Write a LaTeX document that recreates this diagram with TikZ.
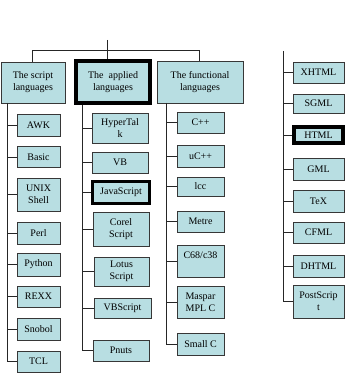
\documentclass[tikz,border=0pt]{standalone}
\usepackage{fontspec}
\setmainfont{Liberation Serif}
\usetikzlibrary{positioning}
\definecolor{cBox}{RGB}{184,222,226}
\definecolor{cEdge}{RGB}{55,55,55}

\begin{document}
\begin{tikzpicture}[
  x=1pt, y=-1pt,
  font=\fontsize{10}{12}\selectfont,
  head/.style 2 args={draw=cEdge, fill=cBox, line width=0.9pt, align=center,
    inner sep=1pt, minimum width=#1, minimum height=#2, anchor=center},
  leaf/.style 2 args={draw=cEdge, fill=cBox, line width=0.9pt, align=center,
    inner sep=1pt, minimum width=#1, minimum height=#2, anchor=center},
  picked/.style={line width=4pt, draw=black},
  link/.style={line width=0.8pt, black!85},
]
\useasboundingbox (0,0) rectangle (354,374);

% Group headers
\node[head={64pt}{41pt}] (script) at (33,82.5) {The script\\languages};
\node[head={74pt}{42pt}, picked] (applied) at (113,82) {The\ \ applied\\languages};
\node[head={86pt}{42pt}] (functional) at (200,82) {The functional\\languages};

% Script lane
\node[leaf={43pt}{22pt}] (awk) at (38.5,125) {AWK};
\node[leaf={43pt}{21pt}] (basic) at (38.5,157) {Basic};
\node[leaf={43pt}{33pt}] (unix) at (38.5,194.5) {UNIX\\Shell};
\node[leaf={43pt}{22pt}] (perl) at (38.5,233) {Perl};
\node[leaf={43pt}{23pt}] (python) at (38.5,264.5) {Python};
\node[leaf={43pt}{21pt}] (rexx) at (38.5,296.5) {REXX};
\node[leaf={43pt}{22pt}] (snobol) at (38.5,329) {Snobol};
\node[leaf={43pt}{21pt}] (tcl) at (38.5,361.5) {TCL};

% Applied lane
\node[leaf={56pt}{30pt}] (hypertalk) at (120,128) {HyperTal\\k};
\node[leaf={56pt}{21pt}] (vb) at (120,162.5) {VB};
\node[leaf={57pt}{22pt}, line width=3pt, draw=black] (javascript) at (121,192.5) {JavaScript};
\node[leaf={56pt}{34pt}] (corel) at (121,229) {Corel\\Script};
\node[leaf={55pt}{29pt}] (lotus) at (121.5,271.5) {Lotus\\Script};
\node[leaf={57pt}{20pt}] (vbscript) at (122.5,308) {VBScript};
\node[leaf={56pt}{21pt}] (pnuts) at (121,350.5) {Pnuts};

% Functional lane
\node[leaf={47pt}{21pt}] (cpp) at (200.5,122.5) {C++};
\node[leaf={47pt}{22pt}] (ucpp) at (200.5,156) {uC++};
\node[leaf={47pt}{19pt}] (lcc) at (200.5,186.5) {lcc};
\node[leaf={47pt}{21pt}] (metre) at (200.5,221.5) {Metre};
\node[leaf={47pt}{32pt}] (c68) at (200.5,261) {C68/c38\\~};
\node[leaf={47pt}{32pt}] (maspar) at (200.5,302) {Maspar\\MPL C};
\node[leaf={47pt}{22pt}] (smallc) at (200.5,344) {Small C};

% Markup lane
\node[leaf={51pt}{21pt}] (xhtml) at (318.5,72.5) {XHTML};
\node[leaf={51pt}{19pt}] (sgml) at (318.5,103.5) {SGML};
\node[leaf={49pt}{16pt}, picked] (html) at (318.5,135) {HTML};
\node[leaf={51pt}{22pt}] (gml) at (318.5,169) {GML};
\node[leaf={51pt}{22pt}] (tex) at (318.5,201) {TeX};
\node[leaf={51pt}{21pt}] (cfml) at (318.5,232.5) {CFML};
\node[leaf={51pt}{22pt}] (dhtml) at (318.5,266) {DHTML};
\node[leaf={51pt}{33pt}] (postscript) at (318.5,301.5) {PostScrip\\t};

% Top of the tree
\coordinate (root) at (107,40);
\coordinate (hubL) at (32,50);
\coordinate (hubR) at (199,50);
\draw[link] (root) -- (root |- applied.north);
\draw[link] (hubL |- script.north) -- (hubL) -- (hubR) -- (hubR |- functional.north);

% Script spine
\coordinate (sSpine) at (7,103);
\draw[link] (sSpine) -- (sSpine |- tcl.west);
\draw[link] (sSpine |- awk.west) -- (awk.west);
\draw[link] (sSpine |- basic.west) -- (basic.west);
\draw[link] (sSpine |- unix.west) -- (unix.west);
\draw[link] (sSpine |- perl.west) -- (perl.west);
\draw[link] (sSpine |- python.west) -- (python.west);
\draw[link] (sSpine |- rexx.west) -- (rexx.west);
\draw[link] (sSpine |- snobol.west) -- (snobol.west);
\draw[link] (sSpine |- tcl.west) -- (tcl.west);

% Applied spine
\coordinate (aSpine) at (82,105);
\draw[link] (aSpine) -- (aSpine |- pnuts.west);
\draw[link] (aSpine |- hypertalk.west) -- (hypertalk.west);
\draw[link] (aSpine |- vb.west) -- (vb.west);
\draw[link] (aSpine |- javascript.west) -- (javascript.west);
\draw[link] (aSpine |- corel.west) -- (corel.west);
\draw[link] (aSpine |- lotus.west) -- (lotus.west);
\draw[link] (aSpine |- vbscript.west) -- (vbscript.west);
\draw[link] (aSpine |- pnuts.west) -- (pnuts.west);

% Functional spine
\coordinate (fSpine) at (166,103);
\draw[link] (fSpine) -- (fSpine |- smallc.west);
\draw[link] (fSpine |- cpp.west) -- (cpp.west);
\draw[link] (fSpine |- ucpp.west) -- (ucpp.west);
\draw[link] (fSpine |- lcc.west) -- (lcc.west);
\draw[link] (fSpine |- metre.west) -- (metre.west);
\draw[link] (fSpine |- c68.west) -- (c68.west);
\draw[link] (fSpine |- maspar.west) -- (maspar.west);
\draw[link] (fSpine |- smallc.west) -- (smallc.west);

% Markup spine (loose at the top)
\coordinate (mSpine) at (283,51);
\draw[link] (mSpine) -- (mSpine |- postscript.west);
\draw[link] (mSpine |- xhtml.west) -- (xhtml.west);
\draw[link] (mSpine |- sgml.west) -- (sgml.west);
\draw[link] (mSpine |- html.west) -- (html.west);
\draw[link] (mSpine |- gml.west) -- (gml.west);
\draw[link] (mSpine |- tex.west) -- (tex.west);
\draw[link] (mSpine |- cfml.west) -- (cfml.west);
\draw[link] (mSpine |- dhtml.west) -- (dhtml.west);
\draw[link] (mSpine |- postscript.west) -- (postscript.west);

\end{tikzpicture}
\end{document}
